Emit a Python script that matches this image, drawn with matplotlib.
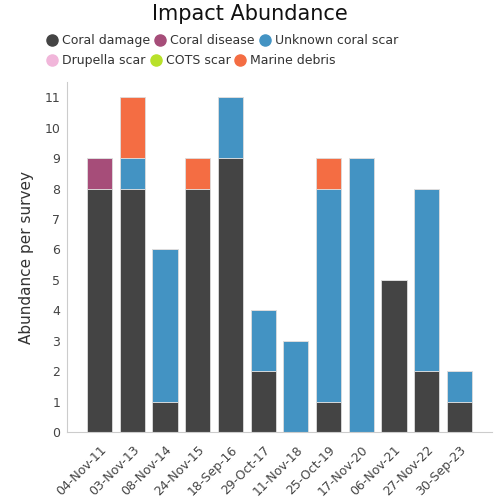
import matplotlib.pyplot as plt
from matplotlib.lines import Line2D
import numpy as np

surveys = ['04-Nov-11', '03-Nov-13', '08-Nov-14', '24-Nov-15', '18-Sep-16', '29-Oct-17',
           '11-Nov-18', '25-Oct-19', '17-Nov-20', '06-Nov-21', '27-Nov-22', '30-Sep-23']

coral_damage = [8, 8, 1, 8, 9, 2, 0, 1, 0, 5, 2, 1]
coral_disease = [1, 0, 0, 0, 0, 0, 0, 0, 0, 0, 0, 0]
unknown_scar = [0, 1, 5, 0, 2, 2, 3, 7, 9, 0, 6, 1]
drupella_scar = [0, 0, 0, 0, 0, 0, 0, 0, 0, 0, 0, 0]
cots_scar = [0, 0, 0, 0, 0, 0, 0, 0, 0, 0, 0, 0]
marine_debris = [0, 2, 0, 1, 0, 0, 0, 1, 0, 0, 0, 0]

series = [
    ('Coral damage', coral_damage, '#444444'),
    ('Coral disease', coral_disease, '#a64d79'),
    ('Unknown coral scar', unknown_scar, '#4393c3'),
    ('Drupella scar', drupella_scar, '#f1b6da'),
    ('COTS scar', cots_scar, '#b8e12a'),
    ('Marine debris', marine_debris, '#f46d43'),
]

fig = plt.figure(figsize=(5, 5), dpi=100)
ax = fig.add_axes([0.134, 0.136, 0.85, 0.70])

x = np.arange(len(surveys))
bottom = np.zeros(len(surveys))
for name, vals, col in series:
    vals = np.array(vals, dtype=float)
    ax.bar(x, vals, 0.77, bottom=bottom, color=col, edgecolor='#dddddd', linewidth=0.6)
    bottom += vals

ax.set_xlim(-1, 12)
ax.set_ylim(0, 11.5)
ax.set_yticks(range(12))
ax.set_xticks(x)
ax.set_xticklabels(surveys, rotation=45, ha='right', rotation_mode='anchor')
ax.tick_params(axis='both', length=0, labelsize=9, colors='#444444', pad=5)
ax.tick_params(axis='x', pad=8)
for s in ['top', 'right']:
    ax.spines[s].set_visible(False)
for s in ['left', 'bottom']:
    ax.spines[s].set_color('#cccccc')
ax.set_ylabel('Abundance per survey', fontsize=11, color='#333333', labelpad=7)

fig.text(0.5, 0.993, 'Impact Abundance', ha='center', va='top', fontsize=15, color='#111111')

def handles(items):
    return [Line2D([], [], marker='o', linestyle='', markersize=8, color=c) for _, _, c in items]

row1 = series[:3]
row2 = series[3:]
leg_kw = dict(loc='upper left', ncol=3, frameon=False, fontsize=9, handletextpad=0.3,
              columnspacing=0.3, handlelength=1.0, borderaxespad=0)
leg1 = fig.legend(handles(row1), [n for n, _, _ in row1], bbox_to_anchor=(0.082, 0.942), **leg_kw)
leg2 = fig.legend(handles(row2), [n for n, _, _ in row2], bbox_to_anchor=(0.082, 0.902), **leg_kw)
for leg in (leg1, leg2):
    for t in leg.get_texts():
        t.set_color('#333333')

fig.savefig('out.png', dpi=100)
